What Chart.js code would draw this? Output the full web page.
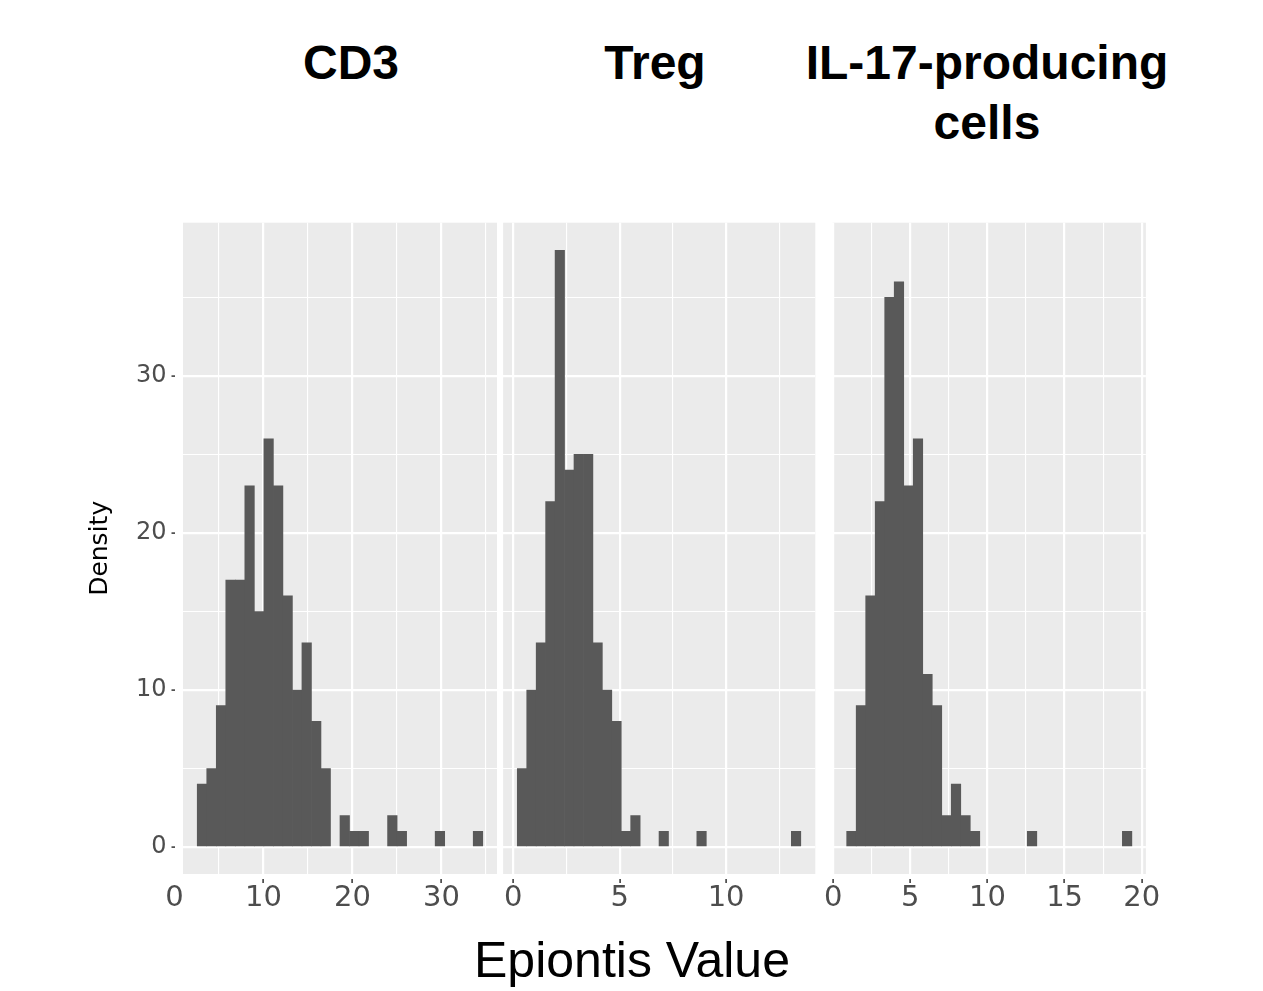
<!DOCTYPE html>
<html>
<head>
<meta charset="utf-8">
<script src="https://cdn.jsdelivr.net/npm/chart.js@4/dist/chart.umd.min.js"></script>
<style>
  html, body { margin: 0; padding: 0; background: #fff; }
  #wrap { position: relative; width: 1263px; height: 991px; overflow: hidden; }
  #wrap canvas { position: absolute; }
  .lbl { position: absolute; font-family: "Liberation Sans", Arial, sans-serif; color: #000;
         line-height: 60px; text-align: center; white-space: nowrap; font-size: 48px; }
  .ttl { font-weight: bold; }
</style>
</head>
<body>
<div id="wrap">
  <div class="lbl ttl" style="left:201px; top:33px; width:300px;">CD3</div>
  <div class="lbl ttl" style="left:505px; top:33px; width:300px;">Treg</div>
  <div class="lbl ttl" style="left:787px; top:33px; width:400px;">IL-17-producing<br>cells</div>
  <div class="lbl" style="left:432px; top:930px; width:400px; font-size:50px;">Epiontis Value</div>

  <canvas id="cd3" style="left:81px; top:200px;" width="431" height="712"></canvas>
  <canvas id="treg" style="left:488px; top:200px;" width="342" height="712"></canvas>
  <canvas id="il17" style="left:818px; top:200px;" width="348" height="712"></canvas>
</div>
<script>
// counts per histogram bin (30 bins per panel)
const cd3Counts  = [4, 5, 9, 17, 17, 23, 15, 26, 23, 16, 10, 13, 8, 5, 0, 2, 1, 1, 0, 0, 2, 1, 0, 0, 0, 1, 0, 0, 0, 1];
const tregCounts = [5, 10, 13, 22, 38, 24, 25, 25, 13, 10, 8, 1, 2, 0, 0, 1, 0, 0, 0, 1, 0, 0, 0, 0, 0, 0, 0, 0, 0, 1];
const il17Counts = [1, 9, 16, 22, 35, 36, 23, 26, 11, 9, 2, 4, 2, 1, 0, 0, 0, 0, 0, 1, 0, 0, 0, 0, 0, 0, 0, 0, 0, 1];

// bin layout: left edge of first bin and bin width (Epiontis value units)
const cd3Bins  = [2.56, 1.069];
const tregBins = [0.188, 0.444];
const il17Bins = [0.88, 0.616];

// axis ranges
const cd3Range  = [0.96, 36.23];
const tregRange = [-0.479, 14.19];
const il17Range = [-0.04, 20.27];
const yRange = [-1.72, 39.76];

Chart.defaults.font.family = "DejaVu Sans";
Chart.defaults.color = "#4D4D4D";

const panelBg = {
  id: "panelBg",
  beforeDraw(chart) {
    const { ctx, chartArea: a } = chart;
    ctx.save();
    ctx.fillStyle = "#EBEBEB";
    ctx.fillRect(a.left, a.top, a.right - a.left, a.bottom - a.top);
    ctx.restore();
  },
};

const isMult = (v, m) => Math.abs(v / m - Math.round(v / m)) < 1e-6;

function makePanel(id, counts, bins, range, step, labelEvery, pad, showY, extraZero) {
  const points = counts.map((c, i) => ({
    x: bins[0] + bins[1] * (i + 0.5),
    y: c === 0 ? null : c,
  }));

  new Chart(document.getElementById(id), {
    type: "bar",
    data: {
      datasets: [{
        data: points,
        backgroundColor: "#595959",
        borderWidth: 0,
        barPercentage: 1,
        categoryPercentage: 1,
      }],
    },
    options: {
      responsive: false,
      animation: false,
      layout: { padding: pad },
      plugins: { legend: { display: false }, tooltip: { enabled: false } },
      scales: {
        x: {
          type: "linear",
          min: range[0],
          max: range[1],
          offset: false,
          border: { display: false },
          grid: {
            offset: false,
            color: "#FFFFFF",
            lineWidth: (c) => (isMult(c.tick.value, labelEvery) ? 2.2 : 1.1),
            tickLength: 9,
            tickWidth: 1.5,
            tickBorderDash: [0, 5, 4, 100],
            tickColor: (c) => (isMult(c.tick.value, labelEvery) && c.tick.value >= range[0] ? "#333333" : "rgba(0,0,0,0)"),
          },
          ticks: {
            stepSize: step,
            includeBounds: false,
            autoSkip: false,
            maxRotation: 0,
            padding: 1,
            font: { size: 29, lineHeight: 1 },
            callback: (v) => (isMult(v, labelEvery) ? String(v) : ""),
          },
          afterBuildTicks: (s) => {
            if (extraZero) s.ticks.unshift({ value: 0 });
          },
          afterFit: (s) => { s.height = 38; },
        },
        y: {
          min: yRange[0],
          max: yRange[1],
          border: { display: false },
          grid: {
            color: "#FFFFFF",
            lineWidth: (c) => (isMult(c.tick.value, 10) ? 2.2 : 1.1),
            drawTicks: showY,
            tickLength: 11.5,
            tickWidth: 1.5,
            tickBorderDash: [3.5, 100],
            tickColor: (c) => (isMult(c.tick.value, 10) ? "#333333" : "rgba(0,0,0,0)"),
          },
          ticks: {
            display: showY,
            stepSize: 5,
            includeBounds: false,
            padding: 5,
            font: { size: 24 },
            callback: (v) => (isMult(v, 10) ? String(v) : ""),
          },
          title: {
            display: showY,
            text: "Density",
            color: "#000000",
            font: { size: 25 },
            padding: { top: 4, bottom: 4 },
          },
          afterFit: (s) => { s.width = showY ? 102 : 0; },
        },
      },
    },
    plugins: [panelBg],
  });
}

makePanel("cd3", cd3Counts, cd3Bins, cd3Range, 5, 10, { top: 22.7, right: 15, bottom: 0, left: 0 }, true, true);
makePanel("treg", tregCounts, tregBins, tregRange, 2.5, 5, { top: 22.7, right: 14.7, bottom: 0, left: 15.1 }, false, false);
makePanel("il17", il17Counts, il17Bins, il17Range, 2.5, 5, { top: 22.7, right: 20.1, bottom: 0, left: 14.5 }, false, false);
</script>
</body>
</html>
